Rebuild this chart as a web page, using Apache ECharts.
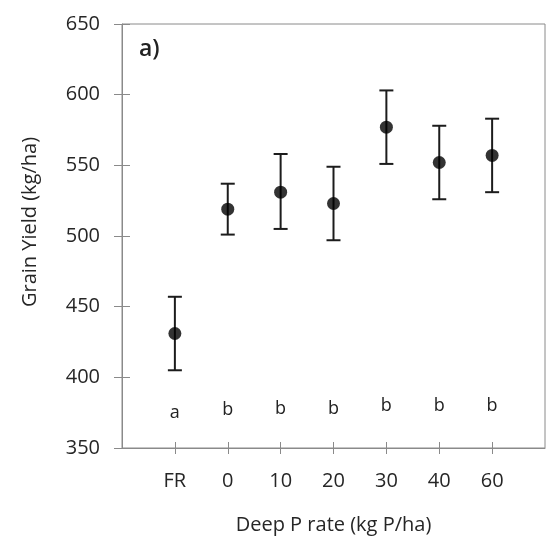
<!DOCTYPE html>
<html>
<head>
<meta charset="utf-8">
<script src="https://cdn.jsdelivr.net/npm/echarts@6/dist/echarts.min.js"></script>
<style>
html,body{margin:0;padding:0;background:#fff;}
#chart{width:546px;height:540px;}
</style>
</head>
<body>
<div id="chart"></div>
<script>
// Data
const categories = ['FR', '0', '10', '20', '30', '40', '60'];
const means = [431, 519, 531, 523, 577, 552, 557];
const lower = [405, 501, 505, 497, 551, 526, 531];
const upper = [457, 537, 558, 549, 603, 578, 583];
const letters = ['a', 'b', 'b', 'b', 'b', 'b', 'b'];
const letterY = [375, 377, 378, 378, 380, 380, 380];
const yTicks = { min: 350, max: 650, interval: 50 };

const positions = categories.map((c, i) => i + 1);
const FONT = '"Open Sans", sans-serif';
const AXIS_COLOR = '#8a8a8a';
const TEXT_COLOR = '#262626';

const chart = echarts.init(document.getElementById('chart'), null, { renderer: 'canvas' });

const baseX = {
  type: 'value', min: 0, max: categories.length + 1, interval: 1,
  splitLine: { show: false }
};
const baseY = {
  type: 'value', min: yTicks.min, max: yTicks.max, interval: yTicks.interval,
  splitLine: { show: false }
};

chart.setOption({
  animation: false,
  backgroundColor: '#fff',
  grid: {
    left: 122, right: 1, top: 24, bottom: 91,
    show: true, borderColor: AXIS_COLOR, borderWidth: 1, backgroundColor: 'transparent'
  },
  xAxis: [
    Object.assign({}, baseX, {
      position: 'bottom',
      name: 'Deep P rate (kg P/ha)',
      nameLocation: 'middle',
      nameGap: 67,
      nameTextStyle: { fontFamily: FONT, fontSize: 20, color: TEXT_COLOR },
      axisLine: { show: true, lineStyle: { color: AXIS_COLOR, width: 1 } },
      axisTick: { show: true, inside: false, length: 6, customValues: positions, lineStyle: { color: AXIS_COLOR, width: 1 } },
      axisLabel: {
        show: true, customValues: positions, margin: 23,
        fontFamily: FONT, fontSize: 20, color: TEXT_COLOR,
        formatter: v => categories[Math.round(v) - 1] || ''
      }
    }),
    Object.assign({}, baseX, {
      position: 'bottom',
      axisLine: { show: false },
      axisTick: { show: true, inside: true, length: 6, customValues: positions, lineStyle: { color: AXIS_COLOR, width: 1 } },
      axisLabel: { show: false }
    })
  ],
  yAxis: [
    Object.assign({}, baseY, {
      position: 'left',
      axisLine: { show: true, lineStyle: { color: AXIS_COLOR, width: 1 } },
      axisTick: { show: true, inside: false, length: 8, lineStyle: { color: AXIS_COLOR, width: 1 } },
      axisLabel: { show: true, margin: 22, fontFamily: FONT, fontSize: 20, color: TEXT_COLOR }
    }),
    Object.assign({}, baseY, {
      position: 'left',
      axisLine: { show: false },
      axisTick: { show: true, inside: true, length: 8, lineStyle: { color: AXIS_COLOR, width: 1 } },
      axisLabel: { show: false }
    })
  ],
  graphic: [
    {
      type: 'text', left: 139, top: 38,
      style: { text: 'a)', font: '600 23px "Open Sans", sans-serif', fill: '#222' }
    },
    {
      type: 'text', x: 30, y: 222, rotation: Math.PI / 2,
      style: {
        text: 'Grain Yield (kg/ha)', font: '20px "Open Sans", sans-serif', fill: TEXT_COLOR,
        align: 'center', verticalAlign: 'middle'
      }
    }
  ],
  series: [
    {
      type: 'custom',
      xAxisIndex: 0, yAxisIndex: 0,
      z: 2,
      data: positions.map((x, i) => [x, lower[i], upper[i]]),
      renderItem: function (params, api) {
        const x = api.value(0);
        const top = api.coord([x, api.value(2)]);
        const bot = api.coord([x, api.value(1)]);
        const hw = 7;
        const style = { stroke: '#1c1c1c', lineWidth: 2 };
        return {
          type: 'group',
          children: [
            { type: 'line', shape: { x1: top[0], y1: top[1], x2: bot[0], y2: bot[1] }, style: style },
            { type: 'line', shape: { x1: top[0] - hw, y1: top[1], x2: top[0] + hw, y2: top[1] }, style: style },
            { type: 'line', shape: { x1: bot[0] - hw, y1: bot[1], x2: bot[0] + hw, y2: bot[1] }, style: style }
          ]
        };
      }
    },
    {
      type: 'scatter',
      xAxisIndex: 0, yAxisIndex: 0,
      z: 3,
      symbol: 'circle',
      symbolSize: 13,
      itemStyle: { color: '#000' },
      data: positions.map((x, i) => [x, means[i]])
    },
    {
      type: 'custom',
      xAxisIndex: 0, yAxisIndex: 0,
      z: 3,
      data: positions.map((x, i) => [x, letterY[i], i]),
      renderItem: function (params, api) {
        const p = api.coord([api.value(0), api.value(1)]);
        return {
          type: 'text',
          x: p[0], y: p[1],
          style: {
            text: letters[api.value(2)],
            font: '500 18px "Open Sans", sans-serif',
            fill: '#222',
            align: 'center', verticalAlign: 'middle'
          }
        };
      }
    }
  ]
});
</script>
</body>
</html>
